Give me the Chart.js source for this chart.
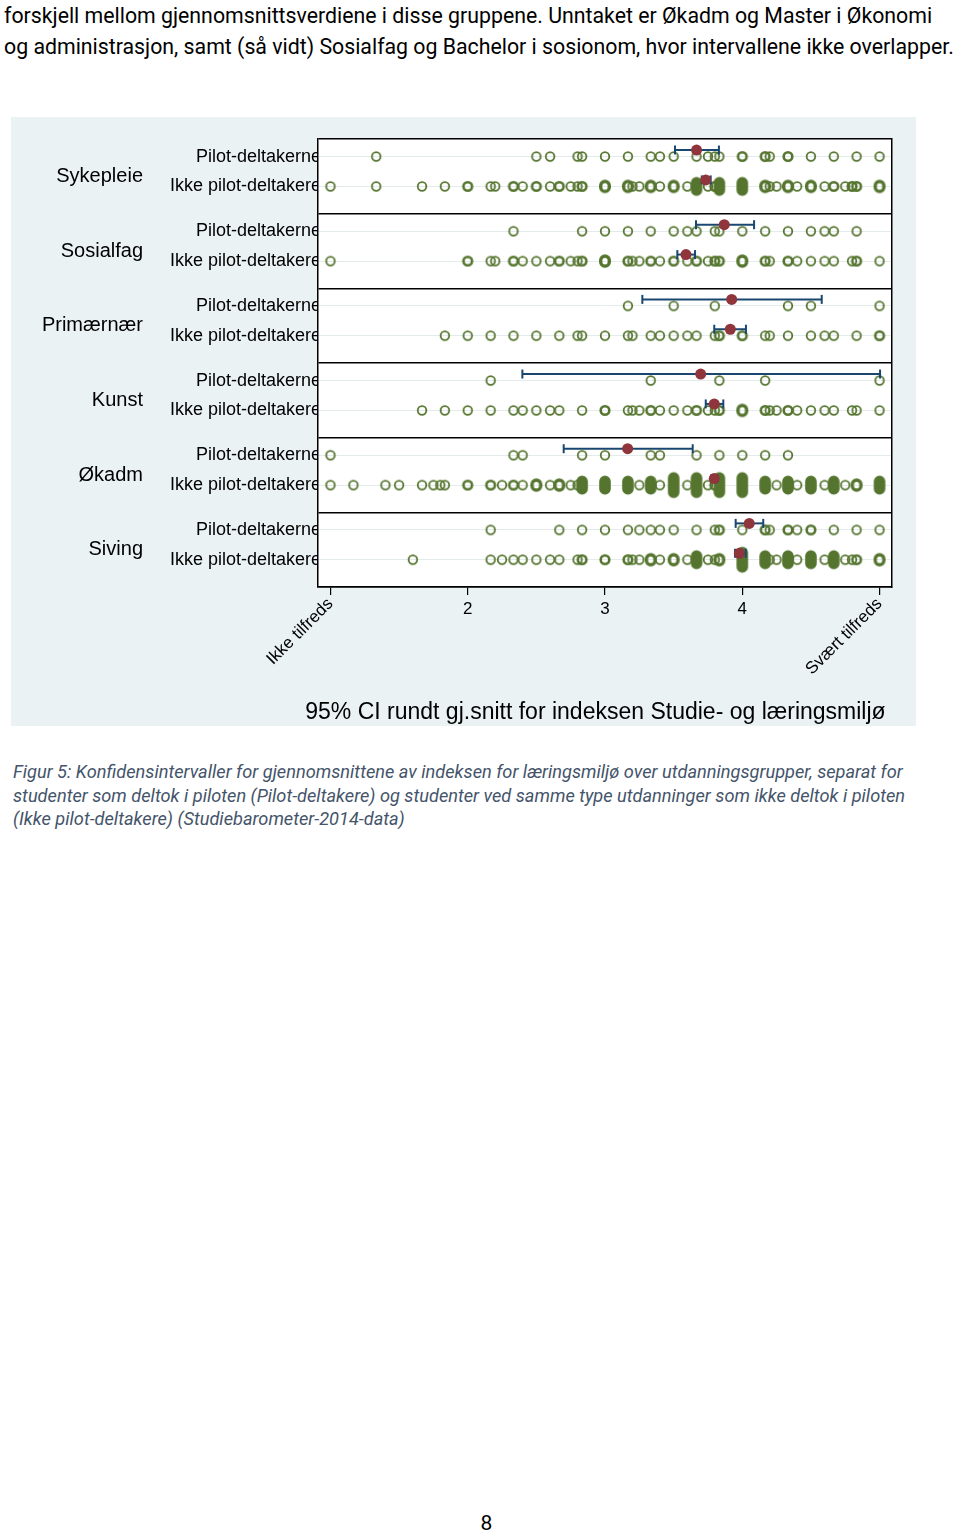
<!DOCTYPE html>
<html>
<head>
<meta charset="utf-8">
<script src="https://cdn.jsdelivr.net/npm/chart.js@4.4.1/dist/chart.umd.min.js"></script>
<style>
  body { margin: 0; background: #fff; width: 960px; height: 1532px; position: relative; overflow: hidden; }
  .intro { position: absolute; left: 4px; top: 0; font-family: 'Roboto', sans-serif; font-size: 21.3px; line-height: 31px; color: #000; white-space: nowrap; }
  #wrap { position: absolute; left: 11px; top: 117px; width: 905px; height: 609px; background: #eaf2f3; }
  .caption { position: absolute; left: 13px; top: 760px; font-family: 'Roboto', sans-serif; font-style: italic; font-size: 18.2px; line-height: 23.5px; color: #44546a; white-space: nowrap; }
  .page { position: absolute; left: 0; top: 1511px; width: 973px; text-align: center; font-family: 'Roboto', sans-serif; font-size: 21px; }
</style>
</head>
<body>
<div class="intro">forskjell mellom gjennomsnittsverdiene i disse gruppene. Unntaket er Økadm og Master i Økonomi<br>og administrasjon, samt (så vidt) Sosialfag og Bachelor i sosionom, hvor intervallene ikke overlapper.</div>
<div id="wrap"><canvas id="chart" width="905" height="609"></canvas></div>
<div class="caption">Figur 5: Konfidensintervaller for gjennomsnittene av indeksen for læringsmiljø over utdanningsgrupper, separat for<br>studenter som deltok i piloten (Pilot-deltakere) og studenter ved samme type utdanninger som ikke deltok i piloten<br>(Ikke pilot-deltakere) (Studiebarometer-2014-data)</div>
<div class="page">8</div>
<script>
const groups = ['Sykepleie', 'Sosialfag', 'Primærnær', 'Kunst', 'Økadm', 'Siving'];
const rowLabels = ['Pilot-deltakerne', 'Ikke pilot-deltakere'];
const xTickValues = [1, 2, 3, 4, 5];
const xTickLabels = ['Ikke tilfreds', '2', '3', '4', 'Svært tilfreds'];
const axisTitle = '95% CI rundt gj.snitt for indeksen Studie- og læringsmiljø';

// [index value, how heavy the overlapping markers look: 1 = single ... 5 = tall stack]
const sykepleiePilot = [[1.333,1],[2.5,1],[2.6,1],[2.8,1],[2.833,1],[3,1],[3.167,1],[3.333,1],[3.4,1],[3.5,1],[3.667,1],[3.75,1],[3.8,1],[3.833,1],[4,2],[4.167,2],[4.2,1],[4.333,2],[4.5,1],[4.667,1],[4.833,1],[5,1]];
const sykepleieIkke = [[1,1],[1.333,1],[1.667,1],[1.833,1],[2,2],[2.167,1],[2.2,1],[2.333,2],[2.4,1],[2.5,2],[2.6,1],[2.667,2],[2.75,1],[2.8,1],[2.833,2],[3,3],[3.167,3],[3.2,1],[3.25,1],[3.333,3],[3.4,1],[3.5,3],[3.6,1],[3.667,4],[3.75,1],[3.8,2],[3.833,4],[4,4],[4.167,3],[4.2,1],[4.25,1],[4.333,3],[4.4,1],[4.5,3],[4.6,1],[4.667,2],[4.75,1],[4.8,2],[4.833,2],[5,3]];
const sosialfagPilot = [[2.333,1],[2.833,1],[3,1],[3.167,1],[3.333,1],[3.5,1],[3.6,1],[3.667,1],[3.8,1],[3.833,1],[4,1],[4.167,1],[4.333,1],[4.5,1],[4.6,1],[4.667,1],[4.833,1]];
const sosialfagIkke = [[1,1],[2,2],[2.167,1],[2.2,1],[2.333,2],[2.4,1],[2.5,1],[2.6,1],[2.667,2],[2.75,1],[2.8,1],[2.833,2],[3,3],[3.167,2],[3.2,1],[3.25,1],[3.333,2],[3.4,1],[3.5,2],[3.6,1],[3.667,2],[3.75,1],[3.8,2],[3.833,2],[4,3],[4.167,2],[4.2,1],[4.333,2],[4.4,1],[4.5,1],[4.6,1],[4.667,1],[4.8,1],[4.833,2],[5,1]];
const primaernaerPilot = [[3.167,1],[3.5,1],[3.8,1],[4.333,1],[4.5,1],[5,1]];
const primaernaerIkke = [[1.833,1],[2,1],[2.167,1],[2.333,1],[2.5,1],[2.667,1],[2.8,1],[2.833,1],[3,1],[3.167,1],[3.2,1],[3.333,1],[3.4,1],[3.5,1],[3.6,1],[3.667,1],[3.8,1],[3.833,2],[4,2],[4.167,1],[4.2,1],[4.333,1],[4.5,1],[4.6,1],[4.667,1],[4.833,1],[5,2]];
const kunstPilot = [[2.167,1],[3.333,1],[3.833,1],[4.167,1],[5,1]];
const kunstIkke = [[1.667,1],[1.833,1],[2,1],[2.167,1],[2.333,1],[2.4,1],[2.5,1],[2.6,1],[2.667,1],[2.833,1],[3,2],[3.167,1],[3.2,1],[3.25,1],[3.333,2],[3.4,1],[3.5,1],[3.6,1],[3.667,2],[3.75,1],[3.8,1],[3.833,2],[4,3],[4.167,2],[4.2,1],[4.25,1],[4.333,2],[4.4,1],[4.5,1],[4.6,1],[4.667,1],[4.8,1],[4.833,1],[5,1]];
const okadmPilot = [[1,1],[2.333,1],[2.4,1],[2.833,1],[3,1],[3.333,1],[3.4,1],[3.667,1],[3.833,1],[4,1],[4.167,1],[4.333,1]];
const okadmIkke = [[1,1],[1.167,1],[1.4,1],[1.5,1],[1.667,1],[1.75,1],[1.8,1],[1.833,1],[2,2],[2.167,2],[2.25,1],[2.333,2],[2.4,1],[2.5,3],[2.6,1],[2.667,3],[2.75,1],[2.8,1],[2.833,4],[3,4],[3.167,4],[3.25,1],[3.333,4],[3.4,1],[3.5,5],[3.6,1],[3.667,5],[3.75,1],[3.8,2],[3.833,5],[4,5],[4.167,4],[4.25,1],[4.333,4],[4.4,1],[4.5,4],[4.6,1],[4.667,4],[4.75,1],[4.833,3],[5,4]];
const sivingPilot = [[2.167,1],[2.667,1],[2.833,1],[3,1],[3.167,1],[3.25,1],[3.333,1],[3.4,1],[3.5,1],[3.667,1],[3.8,1],[3.833,2],[4,1],[4.167,2],[4.2,1],[4.333,2],[4.4,1],[4.5,2],[4.667,1],[4.833,1],[5,1]];
const sivingIkke = [[1.6,1],[2.167,1],[2.25,1],[2.333,1],[2.4,1],[2.5,1],[2.6,1],[2.667,1],[2.8,1],[2.833,2],[3,2],[3.167,2],[3.2,1],[3.25,1],[3.333,3],[3.4,1],[3.5,3],[3.6,1],[3.667,4],[3.75,1],[3.8,1],[3.833,3],[4,5],[4.167,4],[4.2,1],[4.25,1],[4.333,4],[4.4,1],[4.5,4],[4.6,1],[4.667,4],[4.75,1],[4.8,1],[4.833,2],[5,3]];

// one entry per row, in order: group by group, pilot row first
const means  = [3.667, 3.734, 3.869, 3.590, 3.923, 3.913, 3.697, 3.796, 3.165, 3.796, 4.051, 3.979];
const ciLow  = [3.510, 3.705, 3.663, 3.527, 3.272, 3.796, 2.398, 3.734, 2.699, 3.775, 3.952, 3.947];
const ciHigh = [3.830, 3.770, 4.086, 3.656, 4.579, 4.027, 5.004, 3.862, 3.639, 3.818, 4.153, 4.025];

const observations = [sykepleiePilot, sykepleieIkke, sosialfagPilot, sosialfagIkke, primaernaerPilot, primaernaerIkke,
                      kunstPilot, kunstIkke, okadmPilot, okadmIkke, sivingPilot, sivingIkke];

const colors = {
  dots: '#55752f',
  mean: '#90353b',
  ci: '#1a476f',
  rowLine: '#e3ebed',
  frame: '#000000'
};

// row placement inside each panel (panel = 1 unit on the y scale)
const rowOffset = [0.235, 0.635];
const ciLift = 0.087;
const rowY = k => Math.floor(k / 2) + rowOffset[k % 2];

// marker look for a stack of overlapping observations
const markerSpecs = {
  1: { h: 8.6, lw: 1.8, fill: false },
  2: { h: 8.6, lw: 2.6, fill: false },
  3: { h: 10, lw: 3.4, fill: false },
  4: { h: 16, lw: 3, fill: true },
  5: { h: 23, lw: 3, fill: true }
};
const markerCache = {};
const markerFor = (w) => {
  if (markerCache[w]) return markerCache[w];
  const spec = markerSpecs[w];
  const c = document.createElement('canvas');
  c.width = 16;
  c.height = Math.ceil(spec.h) + 6;
  const g = c.getContext('2d');
  const cx = c.width / 2, cy = c.height / 2, r = 4.3;
  const half = Math.max(0, (spec.h - 2 * r) / 2);
  g.beginPath();
  g.arc(cx, cy - half, r, Math.PI, 0);
  g.lineTo(cx + r, cy + half);
  g.arc(cx, cy + half, r, 0, Math.PI);
  g.closePath();
  g.strokeStyle = colors.dots;
  g.fillStyle = colors.dots;
  g.lineWidth = spec.lw;
  if (spec.fill) g.fill();
  g.stroke();
  markerCache[w] = c;
  return c;
};

const datasets = [];

datasets.push({
  label: 'mean',
  order: 0,
  data: means.map((m, k) => ({ x: m, y: rowY(k) - ciLift })),
  pointRadius: 5.5,
  pointBackgroundColor: colors.mean,
  pointBorderWidth: 0
});

ciLow.forEach((lo, k) => {
  datasets.push({
    label: 'ci' + k,
    order: 1,
    showLine: true,
    data: [{ x: lo, y: rowY(k) - ciLift }, { x: ciHigh[k], y: rowY(k) - ciLift }],
    borderColor: colors.ci,
    borderWidth: 2,
    pointStyle: 'line',
    pointRotation: 90,
    pointRadius: 4.5,
    pointBorderColor: colors.ci,
    pointBorderWidth: 2
  });
});

observations.forEach((row, k) => {
  datasets.push({
    label: 'obs' + k,
    order: 2,
    data: row.map(([v, w]) => ({ x: v, y: rowY(k), w: w })),
    pointStyle: ctx => markerFor(ctx.raw ? ctx.raw.w : 1),
    pointRadius: 5
  });
});

const plotBackground = {
  id: 'plotBackground',
  beforeDraw(chart) {
    const { ctx, chartArea: a } = chart;
    ctx.save();
    ctx.fillStyle = '#ffffff';
    ctx.fillRect(a.left, a.top, a.right - a.left, a.bottom - a.top);
    ctx.restore();
  }
};

Chart.defaults.font.family = "'Liberation Sans', Arial, sans-serif";
Chart.defaults.color = '#000';

const xMin = 0.909, xMax = 5.091;
const rowTicks = [];
for (let i = 0; i <= groups.length; i++) rowTicks.push(i);
for (let k = 0; k < groups.length * 2; k++) rowTicks.push(rowY(k));
rowTicks.sort((a, b) => a - b);

new Chart(document.getElementById('chart'), {
  type: 'scatter',
  data: { datasets },
  plugins: [plotBackground],
  options: {
    responsive: false,
    animation: false,
    layout: { padding: { top: 22, right: 24, bottom: 0, left: 0 } },
    plugins: {
      legend: { display: false },
      tooltip: { enabled: false },
      // axis title, wider than the plot area in the original, so it is laid out as a chart title
      title: {
        display: true,
        position: 'bottom',
        align: 'end',
        text: axisTitle + '\u00a0',
        color: '#000',
        font: { size: 23, weight: 'normal' },
        padding: { top: 2, bottom: 0 }
      }
    },
    scales: {
      x: {
        type: 'linear',
        min: xMin,
        max: xMax,
        afterBuildTicks: s => { s.ticks = xTickValues.map(v => ({ value: v })); },
        afterFit: s => { s.height = 109.4; },
        ticks: {
          autoSkip: false,
          minRotation: 45,
          maxRotation: 45,
          padding: -1,
          font: { size: 17 },
          callback: v => {
            const i = xTickValues.indexOf(v);
            return (i === 0 || i === xTickValues.length - 1) ? xTickLabels[i] : '';
          }
        },
        grid: { drawOnChartArea: false, drawTicks: true, tickLength: 8, color: colors.frame, lineWidth: 1.2 },
        border: { color: colors.frame, width: 1.5 }
      },
      xn: {
        type: 'linear',
        position: { y: groups.length },
        min: xMin,
        max: xMax,
        afterBuildTicks: s => { s.ticks = xTickValues.slice(1, -1).map(v => ({ value: v })); },
        ticks: { padding: 12, font: { size: 17 }, callback: v => xTickLabels[xTickValues.indexOf(v)] },
        grid: { display: false, drawTicks: false },
        border: { display: false }
      },
      y: {
        type: 'linear',
        position: 'left',
        weight: 0,
        min: 0,
        max: groups.length,
        reverse: true,
        afterBuildTicks: s => { s.ticks = rowTicks.map(v => ({ value: v })); },
        afterFit: s => { s.width = 167; },
        ticks: {
          padding: -3,
          font: { size: 18 },
          callback: v => Number.isInteger(v) ? '' : rowLabels[rowOffset.indexOf(Math.round((v - Math.floor(v)) * 1000) / 1000)]
        },
        grid: {
          drawTicks: false,
          color: ctx => Number.isInteger(ctx.tick.value) ? colors.frame : colors.rowLine,
          lineWidth: ctx => Number.isInteger(ctx.tick.value) ? 1.5 : 1
        },
        border: { color: colors.frame, width: 1.5 }
      },
      yg: {
        type: 'linear',
        position: 'left',
        weight: 1,
        min: 0,
        max: groups.length,
        reverse: true,
        afterBuildTicks: s => { s.ticks = groups.map((g, i) => ({ value: i + 0.5 })); },
        afterFit: s => { s.width = 140; },
        ticks: { padding: 8, font: { size: 20 }, callback: v => groups[Math.floor(v)] },
        grid: { display: false, drawTicks: false },
        border: { display: false }
      },
      yr: {
        type: 'linear',
        position: 'right',
        min: 0,
        max: groups.length,
        afterFit: s => { s.width = 0; },
        ticks: { display: false },
        grid: { drawOnChartArea: false, drawTicks: false },
        border: { color: colors.frame, width: 1.5 }
      }
    }
  }
});
</script>
</body>
</html>
